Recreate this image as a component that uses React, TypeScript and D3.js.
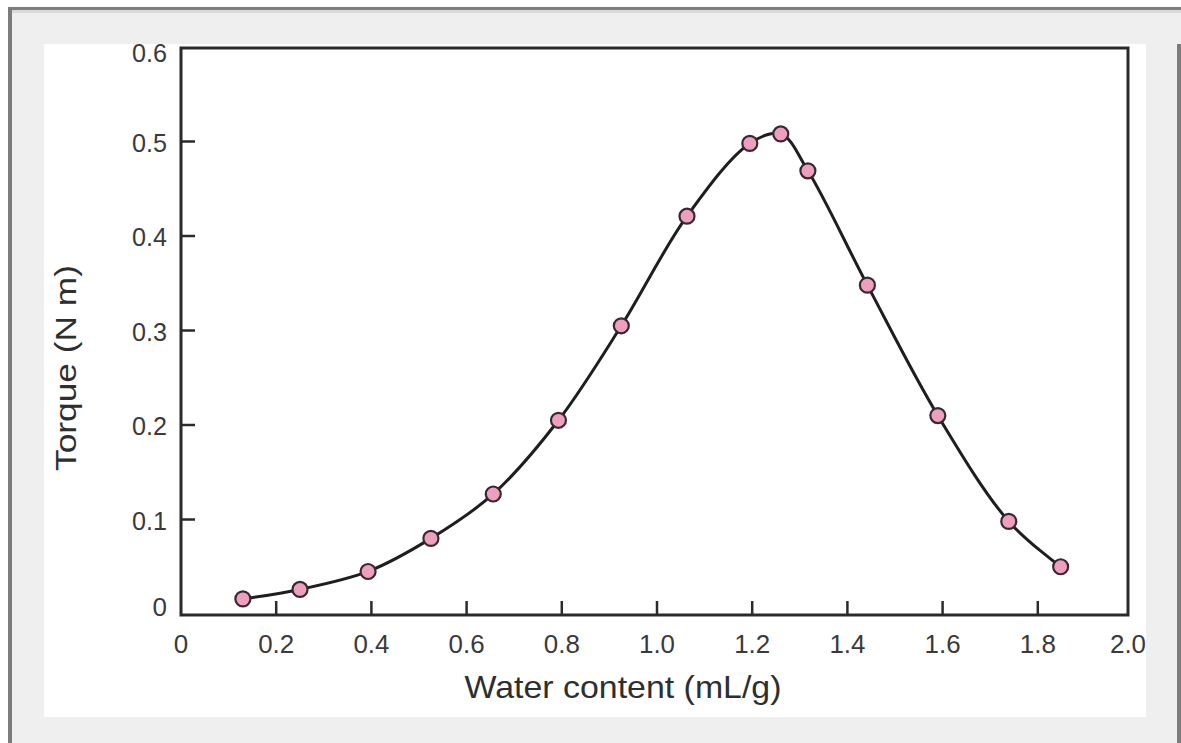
import React from "react";
import * as d3 from "d3";

const waterContent = [0.13, 0.25, 0.393, 0.525, 0.656, 0.793, 0.925, 1.063, 1.195, 1.26, 1.317, 1.442, 1.59, 1.739, 1.848];
const torque = [0.016, 0.026, 0.045, 0.08, 0.127, 0.205, 0.305, 0.421, 0.498, 0.508, 0.469, 0.348, 0.21, 0.098, 0.05];
const xTicks = [0, 0.2, 0.4, 0.6, 0.8, 1.0, 1.2, 1.4, 1.6, 1.8, 2.0];
const yTicks = [0, 0.1, 0.2, 0.3, 0.4, 0.5, 0.6];
const xTitle = "Water content (mL/g)";
const yTitle = "Torque (N m)";

const W = 1181;
const H = 743;
const frame = { left: 181, top: 48, right: 1128, bottom: 615 };

export default function App() {
  const x = d3.scaleLinear().domain([0, 2]).range([181, 1133]);
  const y = d3.scaleLinear().domain([0, 0.6]).range([614, 47]);
  const pts = waterContent.map((v, i) => [v, torque[i]] as [number, number]);
  const line = d3
    .line<[number, number]>()
    .x((d) => x(d[0]))
    .y((d) => y(d[1]))
    .curve(d3.curveCatmullRom.alpha(0.5));
  const font = "'Liberation Sans', Arial, Helvetica, sans-serif";
  const fmt = (v: number) => (v === 0 ? "0" : v.toFixed(1));

  return (
    <svg
      width={W}
      height={H}
      style={{ position: "absolute", left: 0, top: 0, display: "block" }}
    >
      <rect x={0} y={0} width={W} height={H} fill="#ffffff" />
      <rect x={8} y={7} width={W - 8} height={H - 7} fill="#efefef" />
      <rect x={8} y={7} width={W - 8} height={3} fill="#7c7c7c" />
      <rect x={8} y={10} width={W - 8} height={3} fill="#d9d9d9" />
      <rect x={8} y={7} width={4} height={H - 7} fill="#7c7c7c" />
      <rect x={1177} y={44} width={4} height={H - 44} fill="#7c7c7c" />
      <rect x={44} y={44} width={1102} height={673} fill="#ffffff" />

      <rect
        x={frame.left}
        y={frame.top}
        width={frame.right - frame.left}
        height={frame.bottom - frame.top}
        fill="none"
        stroke="#2a2a2a"
        strokeWidth={3}
      />

      {yTicks.map((t) => (
        <g key={"y" + t}>
          {t > 0 && t < 0.6 && (
            <line x1={frame.left} x2={frame.left + 14} y1={y(t)} y2={y(t)} stroke="#2a2a2a" strokeWidth={2.5} />
          )}
          <text
            x={167}
            y={y(t) + (t === 0 ? -7 : t === 0.6 ? 6 : 1)}
            textAnchor="end"
            dominantBaseline="central"
            fontFamily={font}
            fontSize={26}
            fill="#3a3a3a"
            textLength={t === 0 ? undefined : 35}
            lengthAdjust="spacingAndGlyphs"
          >
            {fmt(t)}
          </text>
        </g>
      ))}

      {xTicks.map((t) => (
        <g key={"x" + t}>
          {t > 0 && t < 2 && (
            <line x1={x(t)} x2={x(t)} y1={frame.bottom} y2={frame.bottom - 14} stroke="#2a2a2a" strokeWidth={2.5} />
          )}
          <text
            x={t === 0 ? frame.left : t === 2 ? frame.right : x(t)}
            y={653}
            textAnchor="middle"
            fontFamily={font}
            fontSize={26}
            fill="#3a3a3a"
            textLength={t === 0 ? undefined : 36}
            lengthAdjust="spacingAndGlyphs"
          >
            {fmt(t)}
          </text>
        </g>
      ))}

      <path d={line(pts) || ""} fill="none" stroke="#1e1e1e" strokeWidth={3} />

      {pts.map((d, i) => (
        <circle
          key={i}
          cx={x(d[0])}
          cy={y(d[1])}
          r={7.5}
          fill="#ee9fc0"
          stroke="#3a2830"
          strokeWidth={2.2}
        />
      ))}

      <text
        x={623}
        y={698}
        textAnchor="middle"
        fontFamily={font}
        fontSize={32}
        fill="#2e2e2e"
        textLength={317}
        lengthAdjust="spacingAndGlyphs"
      >
        {xTitle}
      </text>
      <text
        transform="translate(76,368) rotate(-90)"
        x={0}
        y={0}
        textAnchor="middle"
        fontFamily={font}
        fontSize={30}
        fill="#2e2e2e"
        textLength={206}
        lengthAdjust="spacingAndGlyphs"
      >
        {yTitle}
      </text>
    </svg>
  );
}
